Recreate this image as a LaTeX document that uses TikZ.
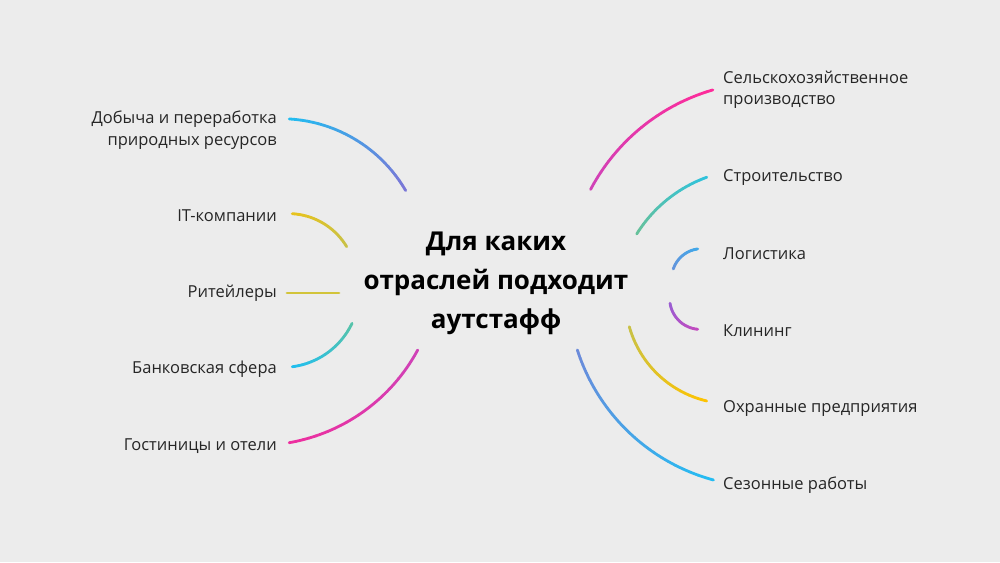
\documentclass[tikz,border=0pt]{standalone}
\usepackage{fontspec}
\setmainfont{Open Sans}
\usetikzlibrary{positioning}

\definecolor{bgcol}{HTML}{ECECEC}
\definecolor{txtcol}{HTML}{262626}
\definecolor{cyanA}{HTML}{1FBEF1}
\definecolor{violetA}{HTML}{7C76D6}
\definecolor{yellowA}{HTML}{E9C31C}
\definecolor{oliveA}{HTML}{C8C146}
\definecolor{oliveB}{HTML}{D2C43A}
\definecolor{tealA}{HTML}{57C3AA}
\definecolor{pinkA}{HTML}{EE2E9E}
\definecolor{magentaA}{HTML}{CF42B8}
\definecolor{pinkB}{HTML}{FF2A99}
\definecolor{cyanB}{HTML}{2DC2DE}
\definecolor{greenB}{HTML}{67C19A}
\definecolor{blueB}{HTML}{3FA9EA}
\definecolor{blueC}{HTML}{6495DC}
\definecolor{purpleB}{HTML}{C449BE}
\definecolor{purpleC}{HTML}{9A5DD2}
\definecolor{yellowB}{HTML}{FFC300}
\definecolor{cyanC}{HTML}{22BEF3}
\definecolor{blueD}{HTML}{6C8ADA}

\newcommand{\gradarc}[6]{%
  \foreach \k in {1,...,24}{%
    \pgfmathsetmacro{\angA}{#3+(#4-#3)*(\k-1)/24}%
    \pgfmathsetmacro{\angB}{#3+(#4-#3)*\k/24}%
    \pgfmathtruncatemacro{\mixp}{100-100*(\k-0.5)/24}%
    \draw[arcline, color=#5!\mixp!#6] ([shift={(\angA:#2)}]#1) arc[start angle=\angA, end angle=\angB, radius=#2];
  }}

\begin{document}
\begin{tikzpicture}[x=1pt, y=1pt,
    arcline/.style={line width=2.8pt, line cap=round},
    lefttag/.style={anchor=east, align=right, inner sep=0pt, text=txtcol, font=\fontsize{16.5}{21.5}\selectfont},
    righttag/.style={anchor=west, align=left, inner sep=0pt, text=txtcol, font=\fontsize{16.5}{21.5}\selectfont},
    hub/.style={align=center, inner sep=0pt, text=black, font=\fontsize{26}{39}\selectfont\bfseries}]
  \useasboundingbox (0,0) rectangle (1000,562);
  \fill[bgcol] (0,0) rectangle (1000,562);

  \node[hub] (hub) at (496,279) {Для каких\\отраслей подходит\\аутстафф};

  \node[lefttag] (mining) at (277,432) {Добыча и переработка\\природных ресурсов};
  \node[lefttag] (itco) at (277,346) {IT-компании};
  \node[lefttag] (retail) at (277,269) {Ритейлеры};
  \node[lefttag] (bank) at (277,193) {Банковская сфера};
  \node[lefttag] (hotel) at (277,116) {Гостиницы и отели};

  \node[righttag] (agri) at (723,472) {Сельскохозяйственное\\производство};
  \node[righttag] (build) at (723,384) {Строительство};
  \node[righttag] (logist) at (723,308) {Логистика};
  \node[righttag] (clean) at (723,231) {Клининг};
  \node[righttag] (guard) at (723,153) {Охранные предприятия};
  \node[righttag] (season) at (723,77) {Сезонные работы};

  \coordinate (miningC) at (280.7,298.7);
  \coordinate (itcoC) at (288.2,280.2);
  \coordinate (bankC) at (282.3,271.8);
  \coordinate (hotelC) at (258,298);
  \coordinate (agriC) at (769.2,278);
  \coordinate (buildC) at (754.1,254.7);
  \coordinate (logistC) at (701.6,283.4);
  \coordinate (cleanC) at (700.4,263.3);
  \coordinate (guardC) at (730.9,263.7);
  \coordinate (seasonC) at (765.1,272.3);
  \coordinate (retailA) at (287,269);
  \coordinate (retailB) at (339,269);

  \gradarc{miningC}{144.6pt}{86.6}{30.2}{cyanA}{violetA}
  \gradarc{itcoC}{68.2pt}{86.6}{31}{yellowA}{oliveA}
  \draw[arcline, oliveB] (retailA) -- (retailB);
  \gradarc{bankC}{77.2pt}{-82.6}{-25.4}{cyanA}{tealA}
  \gradarc{hotelC}{181.4pt}{-80.1}{-28.3}{pinkA}{magentaA}

  \gradarc{agriC}{202.1pt}{106.2}{152.1}{pinkB}{magentaA}
  \gradarc{buildC}{138.4pt}{110}{148}{cyanB}{greenB}
  \gradarc{logistC}{29.9pt}{97.5}{161.3}{blueB}{blueC}
  \gradarc{cleanC}{30.7pt}{265}{188.6}{purpleB}{purpleC}
  \gradarc{guardC}{105.5pt}{256.7}{195.6}{yellowB}{oliveA}
  \gradarc{seasonC}{197.2pt}{254.8}{197.8}{cyanC}{blueD}
\end{tikzpicture}
\end{document}
